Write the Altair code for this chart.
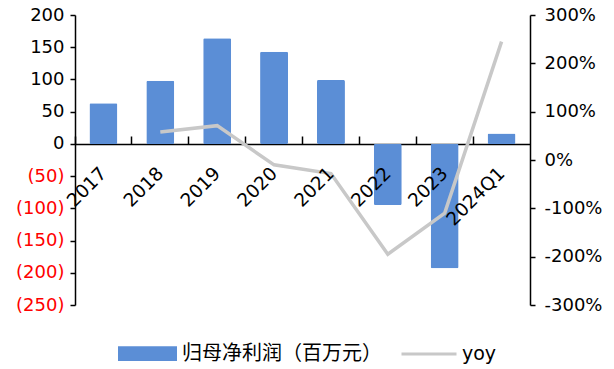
import altair as alt
import pandas as pd

categories = ["2017", "2018", "2019", "2020", "2021", "2022", "2023", "2024Q1"]
profit = [63, 98, 164, 143, 99, -95, -193, 16]
yoy = [None, 0.58, 0.71, -0.10, -0.28, -1.95, -1.10, 2.45]
bar_name = "归母净利润（百万元）"
line_name = "yoy"
left_ticks = [-250, -200, -150, -100, -50, 0, 50, 100, 150, 200]
right_ticks = [-3, -2, -1, 0, 1, 2, 3]

df = pd.DataFrame({"year": categories, "profit": profit, "yoy": yoy})
df["s1"] = bar_name
df["s2"] = line_name

FONT = "DejaVu Sans"
xscale = alt.Scale(paddingInner=0, paddingOuter=0)

bars = alt.Chart(df).mark_bar(size=28, cornerRadius=1.5).encode(
    x=alt.X("year:N", sort=categories, scale=xscale, title=None,
            axis=alt.Axis(orient="top", offset=-129, labels=False, domainColor="black",
                          domainWidth=1.5, tickColor="black", tickWidth=1.5, tickSize=8,
                          bandPosition=0, grid=False)),
    y=alt.Y("profit:Q", scale=alt.Scale(domain=[-250, 200], nice=False, zero=False), title=None,
            axis=alt.Axis(orient="left", values=left_ticks, grid=False, domainColor="black",
                          domainWidth=1.5, tickColor="black", tickWidth=1.5, tickSize=5,
                          labelPadding=6, labelFont=FONT, labelFontSize=18,
                          labelExpr="datum.value < 0 ? '(' + abs(datum.value) + ')' : datum.value",
                          labelColor={"expr": "datum.value < 0 ? '#FF0000' : '#000000'"})),
    color=alt.Color("s1:N", scale=alt.Scale(domain=[bar_name], range=["#5B8ED6"]),
                    legend=alt.Legend(title=None, orient="none", legendX=43, legendY=309,
                                      symbolType="M-1,-0.25H1V0.25H-1Z", symbolSize=3481,
                                      symbolStrokeWidth=0, symbolOpacity=1, padding=0,
                                      labelFont="Noto Sans CJK SC", labelFontSize=20,
                                      labelLimit=400, labelOffset=5, labelColor="black")),
)

line = alt.Chart(df).mark_line(strokeWidth=3.5).encode(
    x=alt.X("year:N", sort=categories, scale=xscale, title=None,
            axis=alt.Axis(orient="bottom", offset=-161, domain=False, ticks=False, grid=False,
                          labelAngle=-45, labelAlign="right", labelBaseline="middle",
                          labelPadding=26, labelFont=FONT, labelFontSize=18.5, labelColor="black",
                          zindex=1)),
    y=alt.Y("yoy:Q", scale=alt.Scale(domain=[-3, 3], nice=False, zero=False), title=None,
            axis=alt.Axis(orient="right", values=right_ticks, grid=False, domainColor="black",
                          domainWidth=1.5, tickColor="black", tickWidth=1.5, tickSize=5,
                          labelPadding=9, labelFont=FONT, labelFontSize=18, labelColor="black",
                          labelExpr="round(datum.value * 100) + '%'")),
    stroke=alt.Stroke("s2:N", scale=alt.Scale(domain=[line_name], range=["#C8C8C8"]),
                      legend=alt.Legend(title=None, orient="none", legendX=325, legendY=310,
                                        symbolType="stroke", symbolSize=3025,
                                        symbolStrokeWidth=3, padding=0,
                                        labelFont=FONT, labelFontSize=19, labelOffset=4,
                                        labelLimit=200, labelColor="black")),
)

chart = alt.layer(bars, line).resolve_scale(y="independent").resolve_axis(
    x="independent", y="independent"
).resolve_legend(color="independent", stroke="independent").properties(
    width=455, height=290,
    autosize=alt.AutoSizeParams(type="none"),
    padding={"left": 75, "top": 15, "right": 84, "bottom": 64},
    background="white",
).configure_view(stroke=None)

chart.save("out.html", embed_options={"renderer": "svg", "actions": False})
